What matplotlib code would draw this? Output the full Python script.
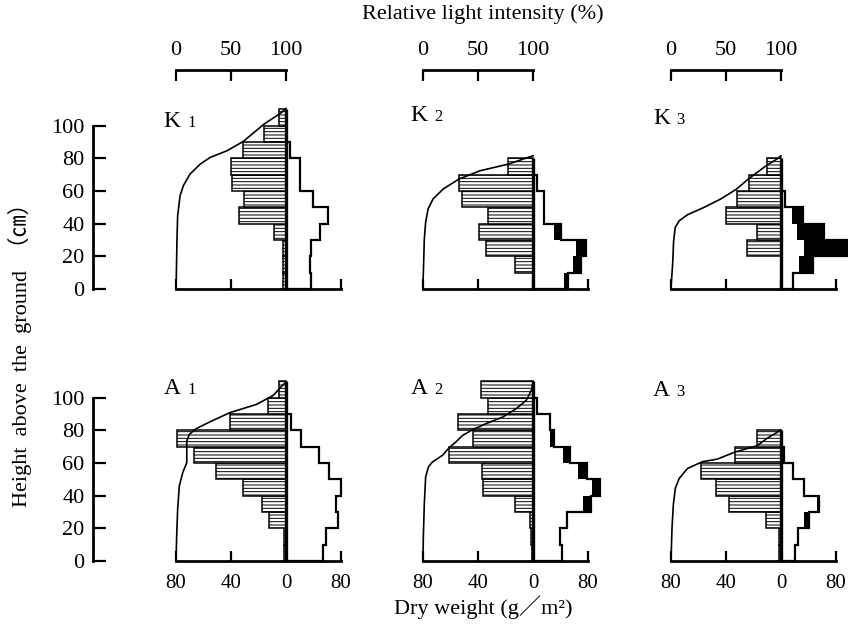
import numpy as np
import matplotlib
matplotlib.use('Agg')
import matplotlib.pyplot as plt

plt.rcParams['font.family'] = ['Liberation Serif', 'Noto Sans CJK JP']
plt.rcParams['hatch.linewidth'] = 0.7

# layer edges (cm), 10 cm strata
edges = np.arange(0, 120, 10)

names = ['K', 'K', 'K', 'A', 'A', 'A']
numbers = ['1', '2', '3', '1', '2', '3']

# leaf dry weight per stratum (g/m2), from ground up
leaf_K1 = [2.5, 2, 2, 8.5, 34, 30.5, 39, 40, 31, 16, 5]
leaf_K2 = [0, 13, 34, 39, 33, 52, 54, 18, 0, 0, 0]
leaf_K3 = [0, 0, 24.6, 17.3, 40.2, 32.3, 23.4, 10.1, 0, 0, 0]
leaf_A1 = [1.5, 1.5, 12.2, 17.8, 31.2, 50.7, 66.6, 79.5, 41, 12.9, 5.1]
leaf_A2 = [1, 1.5, 2.4, 13.4, 36.1, 37, 61, 43.9, 54.4, 32.9, 37.8]
leaf_A3 = [1.5, 1.5, 10.6, 37.6, 47, 58.3, 33.5, 17.3, 0, 0, 0]

# stem (non-photosynthetic) dry weight per stratum, total and dead part
stem_K1 = [37, 35, 36, 50, 61, 39, 21, 21, 6, 0, 0]
dead_K1 = [0, 0, 0, 0, 0, 0, 0, 0, 0, 0, 0]
stem_K2 = [51, 70, 77, 40, 16, 16, 6, 0, 0, 0, 0]
dead_K2 = [6, 12, 15, 9, 0, 0, 0, 0, 0, 0, 0]
stem_K3 = [17, 47, 100, 62, 32, 6, 0, 0, 0, 0, 0]
dead_K3 = [0, 21, 66, 39, 16, 0, 0, 0, 0, 0, 0]
stem_A1 = [54.5, 58, 75, 72, 80, 63, 48, 22.5, 6.7, 0, 0]
dead_A1 = [0, 0, 0, 0, 0, 0, 0, 0, 0, 0, 0]
stem_A2 = [42, 39, 50, 84, 98, 78, 54, 31, 24.5, 5.5, 0]
dead_A2 = [0, 0, 0, 12, 12, 13, 10, 6, 0, 0, 0]
stem_A3 = [20, 24, 41, 55, 33, 17.5, 5, 0, 0, 0, 0]
dead_A3 = [0, 0, 8, 3, 0, 0, 0, 0, 0, 0, 0]

# relative light intensity (%) vs height (cm)
light_K1 = [100, 95.4, 80.1, 61.2, 46.5, 31.2, 22, 12.8, 6.7, 3.7, 1.5, 0.9, 0.3, 0]
hgt_K1 = [110.6, 107.8, 101, 90.4, 84.7, 80.6, 76.5, 70.4, 63.3, 57.1, 44.9, 30.6, 8.2, 0]
light_K2 = [100, 77.7, 51.8, 32.6, 18.3, 9.1, 4.6, 2.4, 1.2, 0.6, 0]
hgt_K2 = [81.6, 76.5, 72.4, 67.3, 61.2, 55.1, 49, 40.8, 30.6, 16.3, 3]
light_K3 = [100, 96.4, 87.3, 70.2, 59.6, 45.2, 30.1, 15.1, 7.5, 3.9, 2.4, 1.5, 0]
hgt_K3 = [81.6, 79.6, 75.9, 67.3, 61.2, 55.1, 50, 45.5, 41.8, 37.8, 29.6, 15.3, 1]
light_A1 = [100, 96, 88.4, 73.2, 48.8, 30.5, 18.3, 12.2, 9.8, 9.8, 9.8, 6.1, 3, 1.5, 0.6, 0]
hgt_A1 = [109.6, 107, 101.4, 95.9, 90.8, 85.1, 81, 77.6, 73.5, 64.3, 60.2, 54.1, 45.9, 31.6, 15.3, 0]
light_A2 = [100, 98.5, 93.9, 84.8, 72.6, 57.3, 45.1, 36, 29.9, 23.8, 17.7, 8.5, 4.9, 2.4, 1.2, 0.3, 0]
hgt_A2 = [109.6, 104.5, 98.4, 93.3, 88.2, 84.1, 80.4, 76.9, 72.9, 69.4, 64.7, 60.6, 57.6, 51.4, 35.1, 14.7, 0]
light_A3 = [100, 87.3, 78.3, 58.1, 42.2, 28.6, 15.1, 7.5, 3.9, 2.1, 0.9, 0]
hgt_A3 = [80.2, 75.1, 70.6, 66.7, 62.4, 60.8, 56.7, 50.6, 44.5, 34.3, 20, 0]

leaves = [leaf_K1, leaf_K2, leaf_K3, leaf_A1, leaf_A2, leaf_A3]
stems = [stem_K1, stem_K2, stem_K3, stem_A1, stem_A2, stem_A3]
deads = [dead_K1, dead_K2, dead_K3, dead_A1, dead_A2, dead_A3]
lights = [light_K1, light_K2, light_K3, light_A1, light_A2, light_A3]
hgts = [hgt_K1, hgt_K2, hgt_K3, hgt_A1, hgt_A2, hgt_A3]

weight_ticks = [-80, -40, 0, 40]
weight_labels = ['80', '40', '0', '80']
light_ticks = [0, 50, 100]
height_ticks = [0, 20, 40, 60, 80, 100]

STEM_SCALE = 0.5  # right side drawn at half scale

W, H = 848, 626
fig = plt.figure(figsize=(W / 100, H / 100), dpi=100)

col_x0 = [286, 533, 781]   # pixel x of the zero line
row_y0 = [289, 561]        # pixel y of the ground
sx, sy = 1.375, 1.633      # px per unit
xlo, xhi, ylo, yhi = -85, 52, -3, 118
label_dx = [-89, -89, -93]
label_y = [99, 103, 101, 102, 102, 101]

def frac_box(x_left, x_right, y_bottom, y_top):
    return [x_left / W, 1 - y_bottom / H, (x_right - x_left) / W, (y_bottom - y_top) / H]

for i in range(6):
    r, c = divmod(i, 3)
    x0, y0 = col_x0[c], row_y0[r]
    ax = fig.add_axes(frac_box(x0 + xlo * sx, x0 + xhi * sx, y0 - ylo * sy, y0 - yhi * sy))
    ax.set_xlim(xlo, xhi)
    ax.set_ylim(ylo, yhi)
    ax.patch.set_alpha(0)

    leaf = np.array(leaves[i])
    stem = np.array(stems[i]) * STEM_SCALE
    dead = np.array(deads[i]) * STEM_SCALE
    bottoms = edges[:-1]

    nz = leaf > 0
    ax.barh(bottoms[nz], -leaf[nz], height=10, align='edge', color='white',
            edgecolor='black', hatch='-----', linewidth=1.1, zorder=2)
    n = np.nonzero(stem > 0)[0].max() + 1
    ax.stairs(stem[:n], edges[:n + 1], orientation='horizontal', baseline=0, fill=False,
              color='black', linewidth=1.6, zorder=3)
    dz = dead > 0
    ax.barh(bottoms[dz], dead[dz], left=(stem - dead)[dz], height=10, align='edge',
            color='black', linewidth=0, zorder=3)
    top = edges[1:][(leaf > 0) | (stem > 0)].max()
    ax.vlines(0, 0, top, color='black', linewidth=2.4, zorder=4)

    lx = -80 + 0.8 * np.array(lights[i])
    ax.plot(lx, hgts[i], color='black', linewidth=1.2, zorder=5)

    for s in ['top', 'right', 'left']:
        ax.spines[s].set_visible(False)
    ax.spines['bottom'].set_position(('data', 0))
    ax.spines['bottom'].set_bounds(-80, 40)
    ax.spines['bottom'].set_linewidth(2)
    ax.set_yticks([])
    ax.set_xticks(weight_ticks)
    ax.tick_params(axis='x', direction='in', length=7, width=1.6, pad=9, labelsize=15)
    if r == 1:
        ax.set_xticklabels(weight_labels)
    else:
        ax.set_xticklabels([])

    ax.text(label_dx[c], label_y[i], names[i], fontsize=17, ha='left', va='baseline')
    ax.text(label_dx[c] + 17, label_y[i], numbers[i], fontsize=12, ha='left', va='baseline')

    if c == 0:
        ay = fig.add_axes(frac_box(93, 93.01, y0 - ylo * sy, y0 - yhi * sy))
        ay.set_ylim(ylo, yhi)
        ay.set_xticks([])
        for s in ['top', 'right', 'bottom']:
            ay.spines[s].set_visible(False)
        ay.spines['left'].set_bounds(0, 100)
        ay.spines['left'].set_linewidth(2)
        ay.set_yticks(height_ticks)
        ay.tick_params(axis='y', direction='in', length=9, width=1.6, pad=6, labelsize=16)

    if r == 0:
        al = fig.add_axes(frac_box(x0 - 110, x0, 70, 69.99))
        al.set_xlim(0, 100)
        al.set_yticks([])
        for s in ['bottom', 'right', 'left']:
            al.spines[s].set_visible(False)
        al.spines['top'].set_linewidth(2)
        al.xaxis.tick_top()
        al.set_xticks(light_ticks)
        al.tick_params(axis='x', direction='in', length=8, width=1.6, pad=7, labelsize=16)

fig.text(483 / W, 1 - 14 / H, 'Relative light intensity (%)', fontsize=16, ha='center', va='center')
fig.text(483 / W, 1 - 607 / H, 'Dry weight (g／m²)', fontsize=16, ha='center', va='center')
fig.text(20 / W, 1 - 350 / H, 'Height\u2002above\u2002the\u2002ground\u2002（㎝）', fontsize=16,
         ha='center', va='center', rotation=90)

fig.savefig('out.png', dpi=100)
